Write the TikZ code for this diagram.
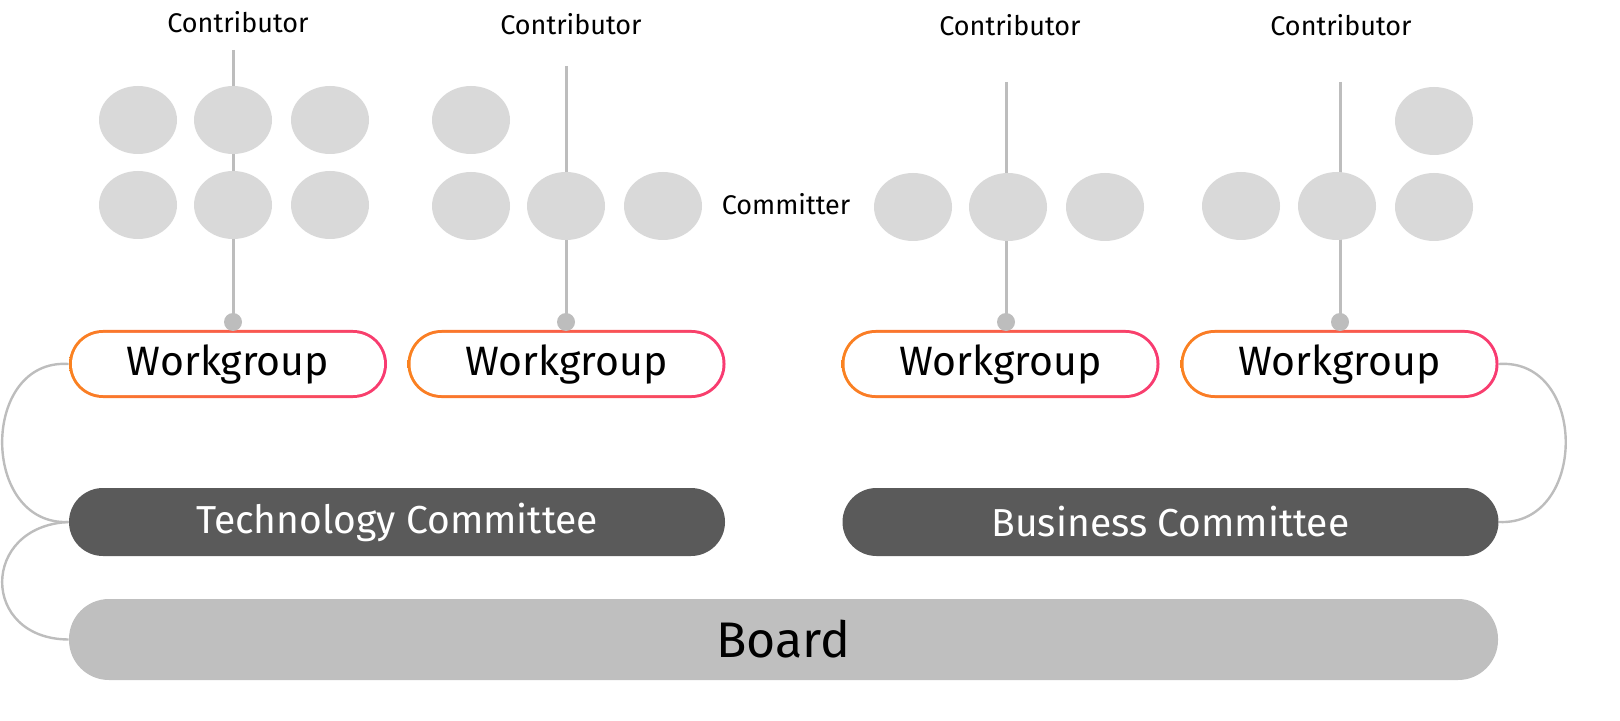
\documentclass[tikz,border=0pt]{standalone}
\usepackage{fontspec}
\setmainfont{Fira Sans}
\usetikzlibrary{shapes.geometric}
\begin{document}
\begin{tikzpicture}[x=0.5pt,y=-0.5pt,
  bub/.style={fill=bubgray,draw=none,ellipse,minimum width=39pt,minimum height=34pt,inner sep=0pt},
  wg/.style={minimum width=159pt,minimum height=34pt,inner sep=0pt,font=\fontsize{20.5}{22}\selectfont},
  com/.style={rounded corners=17pt,fill=comgray,text=white,minimum width=328pt,minimum height=34pt,inner sep=0pt,font=\fontsize{19.5}{22}\selectfont},
  lbl/.style={font=\fontsize{13.5}{15}\selectfont},
  ln/.style={draw=linegray,line width=1.5pt},
  arc/.style={draw=linegray,line width=1.2pt}]
\definecolor{bubgray}{HTML}{D9D9D9}
\definecolor{comgray}{HTML}{5A5A5A}
\definecolor{boardgray}{HTML}{BFBFBF}
\definecolor{linegray}{HTML}{BDBDBD}
\definecolor{wgorange}{HTML}{FA8220}
\definecolor{wgpink}{HTML}{F83A72}
% labels
\node[lbl] (c1) at (238,22) {Contributor};
\node[lbl] (c2) at (571,24) {Contributor};
\node[lbl] (c3) at (1010,25) {Contributor};
\node[lbl] (c4) at (1341,25) {Contributor};
\node[lbl] (cm) at (786,204) {Committer};
% workgroups
\foreach \n/\cx in {w1/228,w2/566.5,w3/1000.5,w4/1339.5}{
  \shade[left color=wgorange,right color=wgpink,rounded corners=17pt] (\cx-159,330) rectangle (\cx+159,398);
  \fill[white,rounded corners=15.5pt] (\cx-156,333) rectangle (\cx+156,395);
  \node[wg] (\n) at (\cx,364) {Workgroup};
}
% top points
\coordinate (t1) at (233,50); \coordinate (t2) at (566,66);
\coordinate (t3) at (1006,82); \coordinate (t4) at (1340,82);
\coordinate (d1) at (233,322); \coordinate (d2) at (566,322);
\coordinate (d3) at (1006,322); \coordinate (d4) at (1340,322);
\foreach \i in {1,2,3,4}{
  \draw[ln] (t\i) -- (d\i);
  \fill[linegray] (d\i) circle (4.5pt);
}
% bubbles
\foreach \p/\x/\y in {a1/138/120,a2/233/120,a3/330/120,a4/138/205,a5/233/205,a6/330/205,
  b1/471/120,b2/471/206,b3/566/206,b4/663/206,
  e1/913/207,e2/1008/207,e3/1105/207,
  f1/1434/121,f2/1241/206,f3/1337/206,f4/1434/207}
  \node[bub] (\p) at (\x,\y) {};
% committees
\node[com] (tc) at (397,522) {Technology Committee};
\node[com] (bc) at (1170.5,522) {Business Committee};
\node[rounded corners=20pt,fill=boardgray,minimum width=714.5pt,minimum height=40.5pt,inner sep=0pt,font=\fontsize{25}{28}\selectfont] (bd) at (783.5,639.5) {Board};
% arcs
\draw[arc] (w1.west) .. controls (-20,358) and (-20,526) .. (tc.west);
\draw[arc] (tc.west) .. controls (-20,526) and (-20,639) .. (bd.west);
\draw[arc] (w4.east) .. controls (1588,358) and (1588,526) .. (bc.east);
\pgfresetboundingbox
\useasboundingbox (0,0) rectangle (1620,721);
\end{tikzpicture}
\end{document}
